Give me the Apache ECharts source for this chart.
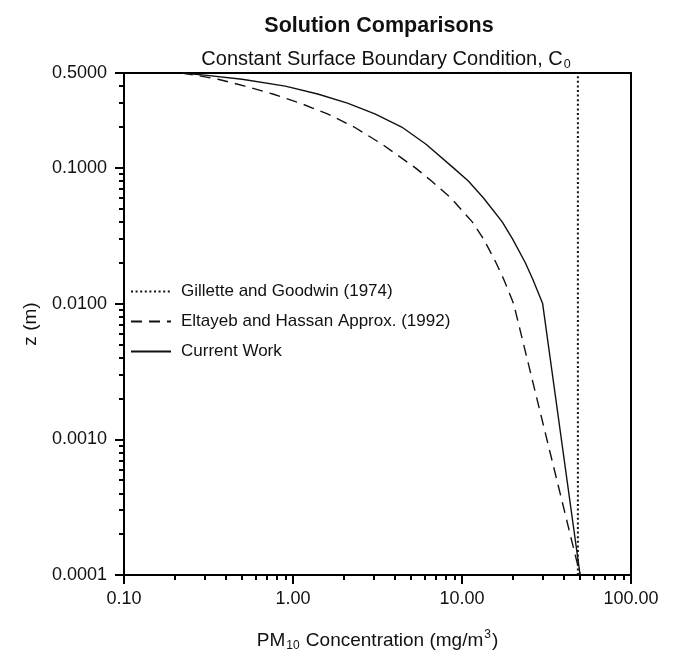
<!DOCTYPE html>
<html>
<head>
<meta charset="utf-8">
<script src="https://cdn.jsdelivr.net/npm/echarts@6/dist/echarts.min.js"></script>
<style>
  html, body { margin: 0; padding: 0; background: #fff; }
  #chart { width: 675px; height: 657px; }
</style>
</head>
<body>
<div id="chart"></div>
<script>
// Depth (m) at which the two model profiles are listed
const depthLevels = [0.5, 0.48, 0.45, 0.4, 0.35, 0.3, 0.25, 0.2, 0.15, 0.1, 0.08, 0.06, 0.04, 0.03, 0.02, 0.015, 0.01, 0.0001];
// PM10 concentration (mg/m^3) for each profile at those depths
const currentWork   = [0.22, 0.31, 0.50, 0.90, 1.40, 2.10, 3.05, 4.4, 6.1, 8.9, 10.9, 13.4, 17.3, 19.9, 23.7, 26.3, 30.0, 50.0];
const eltayebHassan = [0.22, 0.27, 0.36, 0.52, 0.76, 1.10, 1.60, 2.3, 3.35, 5.3, 6.6, 8.6, 11.5, 13.4, 15.9, 17.7, 20.2, 50.0];
// Gillette and Goodwin: uniform concentration over the whole depth range
const gilletteDepths = [0.0001, 0.5];
const gilletteConc   = [48.5, 48.5];

const seriesNames = ['Gillette and Goodwin (1974)', 'Eltayeb and Hassan Approx. (1992)', 'Current Work'];

// Labelled ticks
const xMajorTicks = [0.1, 1, 10, 100];
const yMajorTicks = [0.0001, 0.001, 0.01, 0.1, 0.5];

// Unlabelled log-cycle ticks (2..9 within each decade)
const mantissas = [2, 3, 4, 5, 6, 7, 8, 9];
const xMinorTicks = [];
[0.1, 1, 10].forEach(d => mantissas.forEach(m => xMinorTicks.push(+(d * m).toPrecision(6))));
const yMinorTicks = [];
[0.0001, 0.001, 0.01].forEach(d => mantissas.forEach(m => yMinorTicks.push(+(d * m).toPrecision(6))));
[0.2, 0.3, 0.4].forEach(v => yMinorTicks.push(v));

const FONT = '"Liberation Sans", Arial, Helvetica, sans-serif';
const INK = '#111';

const pairs = (xs, ys) => xs.map((x, i) => [x, ys[i]]);

const chart = echarts.init(document.getElementById('chart'), null, { renderer: 'canvas' });

const baseAxisLine = { show: true, onZero: false, lineStyle: { color: '#000', width: 2 } };

chart.setOption({
  animation: false,
  backgroundColor: '#fff',
  textStyle: { fontFamily: FONT, color: INK },
  title: [
    {
      text: 'Solution Comparisons',
      left: 374, top: 10, textAlign: 'center',
      textStyle: { fontFamily: FONT, fontSize: 21.5, fontWeight: 'bold', color: INK }
    },
    {
      text: '{a|Constant Surface Boundary Condition, C}{s|0}',
      left: 381, top: 42, textAlign: 'center',
      textStyle: {
        fontFamily: FONT, color: INK, fontWeight: 'normal',
        rich: {
          a: { fontFamily: FONT, fontSize: 20, fontWeight: 'normal', color: INK },
          s: { fontFamily: FONT, fontSize: 12.5, fontWeight: 'normal', color: INK, padding: [11, 0, 0, 1] }
        }
      }
    }
  ],
  legend: {
    orient: 'vertical',
    left: 130, top: 283, padding: 0,
    itemWidth: 40, itemHeight: 14, itemGap: 13,
    data: seriesNames,
    itemStyle: { opacity: 0 },
    textStyle: { fontFamily: FONT, fontSize: 17, color: INK, padding: [0, 0, 0, 5] }
  },
  grid: {
    left: 124, right: 44, top: 73, bottom: 74,
    show: true, borderColor: '#000', borderWidth: 2, backgroundColor: 'transparent'
  },
  xAxis: [
    {
      type: 'log', logBase: 10, min: 0.1, max: 100, position: 'bottom',
      axisLine: baseAxisLine,
      axisTick: { show: true, customValues: xMajorTicks, length: 9, lineStyle: { color: '#000', width: 2 } },
      axisLabel: {
        customValues: xMajorTicks, margin: 15, fontSize: 18, fontFamily: FONT, color: INK,
        formatter: v => Number(v).toFixed(2)
      },
      splitLine: { show: false },
      name: '{a|PM}{s|10}{a| Concentration (mg/m}{p|3}{a|)}',
      nameLocation: 'middle', nameGap: 54,
      nameTextStyle: {
        fontFamily: FONT, color: INK,
        rich: {
          a: { fontFamily: FONT, fontSize: 19, color: INK },
          s: { fontFamily: FONT, fontSize: 12, color: INK, padding: [10, 1, 0, 1] },
          p: { fontFamily: FONT, fontSize: 12, color: INK, padding: [0, 1, 12, 1] }
        }
      }
    },
    {
      type: 'log', logBase: 10, min: 0.1, max: 100, position: 'bottom',
      axisLine: { show: false },
      axisTick: { show: true, customValues: xMinorTicks, length: 5, lineStyle: { color: '#000', width: 2 } },
      axisLabel: { show: false },
      splitLine: { show: false }
    }
  ],
  yAxis: [
    {
      type: 'log', logBase: 10, min: 0.0001, max: 0.5, position: 'left',
      axisLine: baseAxisLine,
      axisTick: { show: true, customValues: yMajorTicks, length: 9, lineStyle: { color: '#000', width: 2 } },
      axisLabel: {
        customValues: yMajorTicks, margin: 17, fontSize: 18, fontFamily: FONT, color: INK,
        formatter: v => Number(v).toFixed(4)
      },
      splitLine: { show: false },
      name: 'z (m)',
      nameLocation: 'middle', nameGap: 84, nameRotate: 90,
      nameTextStyle: { fontFamily: FONT, fontSize: 19, color: INK }
    },
    {
      type: 'log', logBase: 10, min: 0.0001, max: 0.5, position: 'left',
      axisLine: { show: false },
      axisTick: { show: true, customValues: yMinorTicks, length: 5, lineStyle: { color: '#000', width: 2 } },
      axisLabel: { show: false },
      splitLine: { show: false }
    }
  ],
  series: [
    {
      name: seriesNames[0], type: 'line', symbol: 'none',
      data: pairs(gilletteConc, gilletteDepths),
      lineStyle: { color: INK, width: 2, type: [2, 2.6] },
      itemStyle: { color: INK }
    },
    {
      name: seriesNames[1], type: 'line', symbol: 'none',
      data: pairs(eltayebHassan, depthLevels),
      lineStyle: { color: INK, width: 1.4, type: [11, 7] },
      itemStyle: { color: INK }
    },
    {
      name: seriesNames[2], type: 'line', symbol: 'none',
      data: pairs(currentWork, depthLevels),
      lineStyle: { color: INK, width: 1.4, type: 'solid' },
      itemStyle: { color: INK }
    }
  ]
});
</script>
</body>
</html>
